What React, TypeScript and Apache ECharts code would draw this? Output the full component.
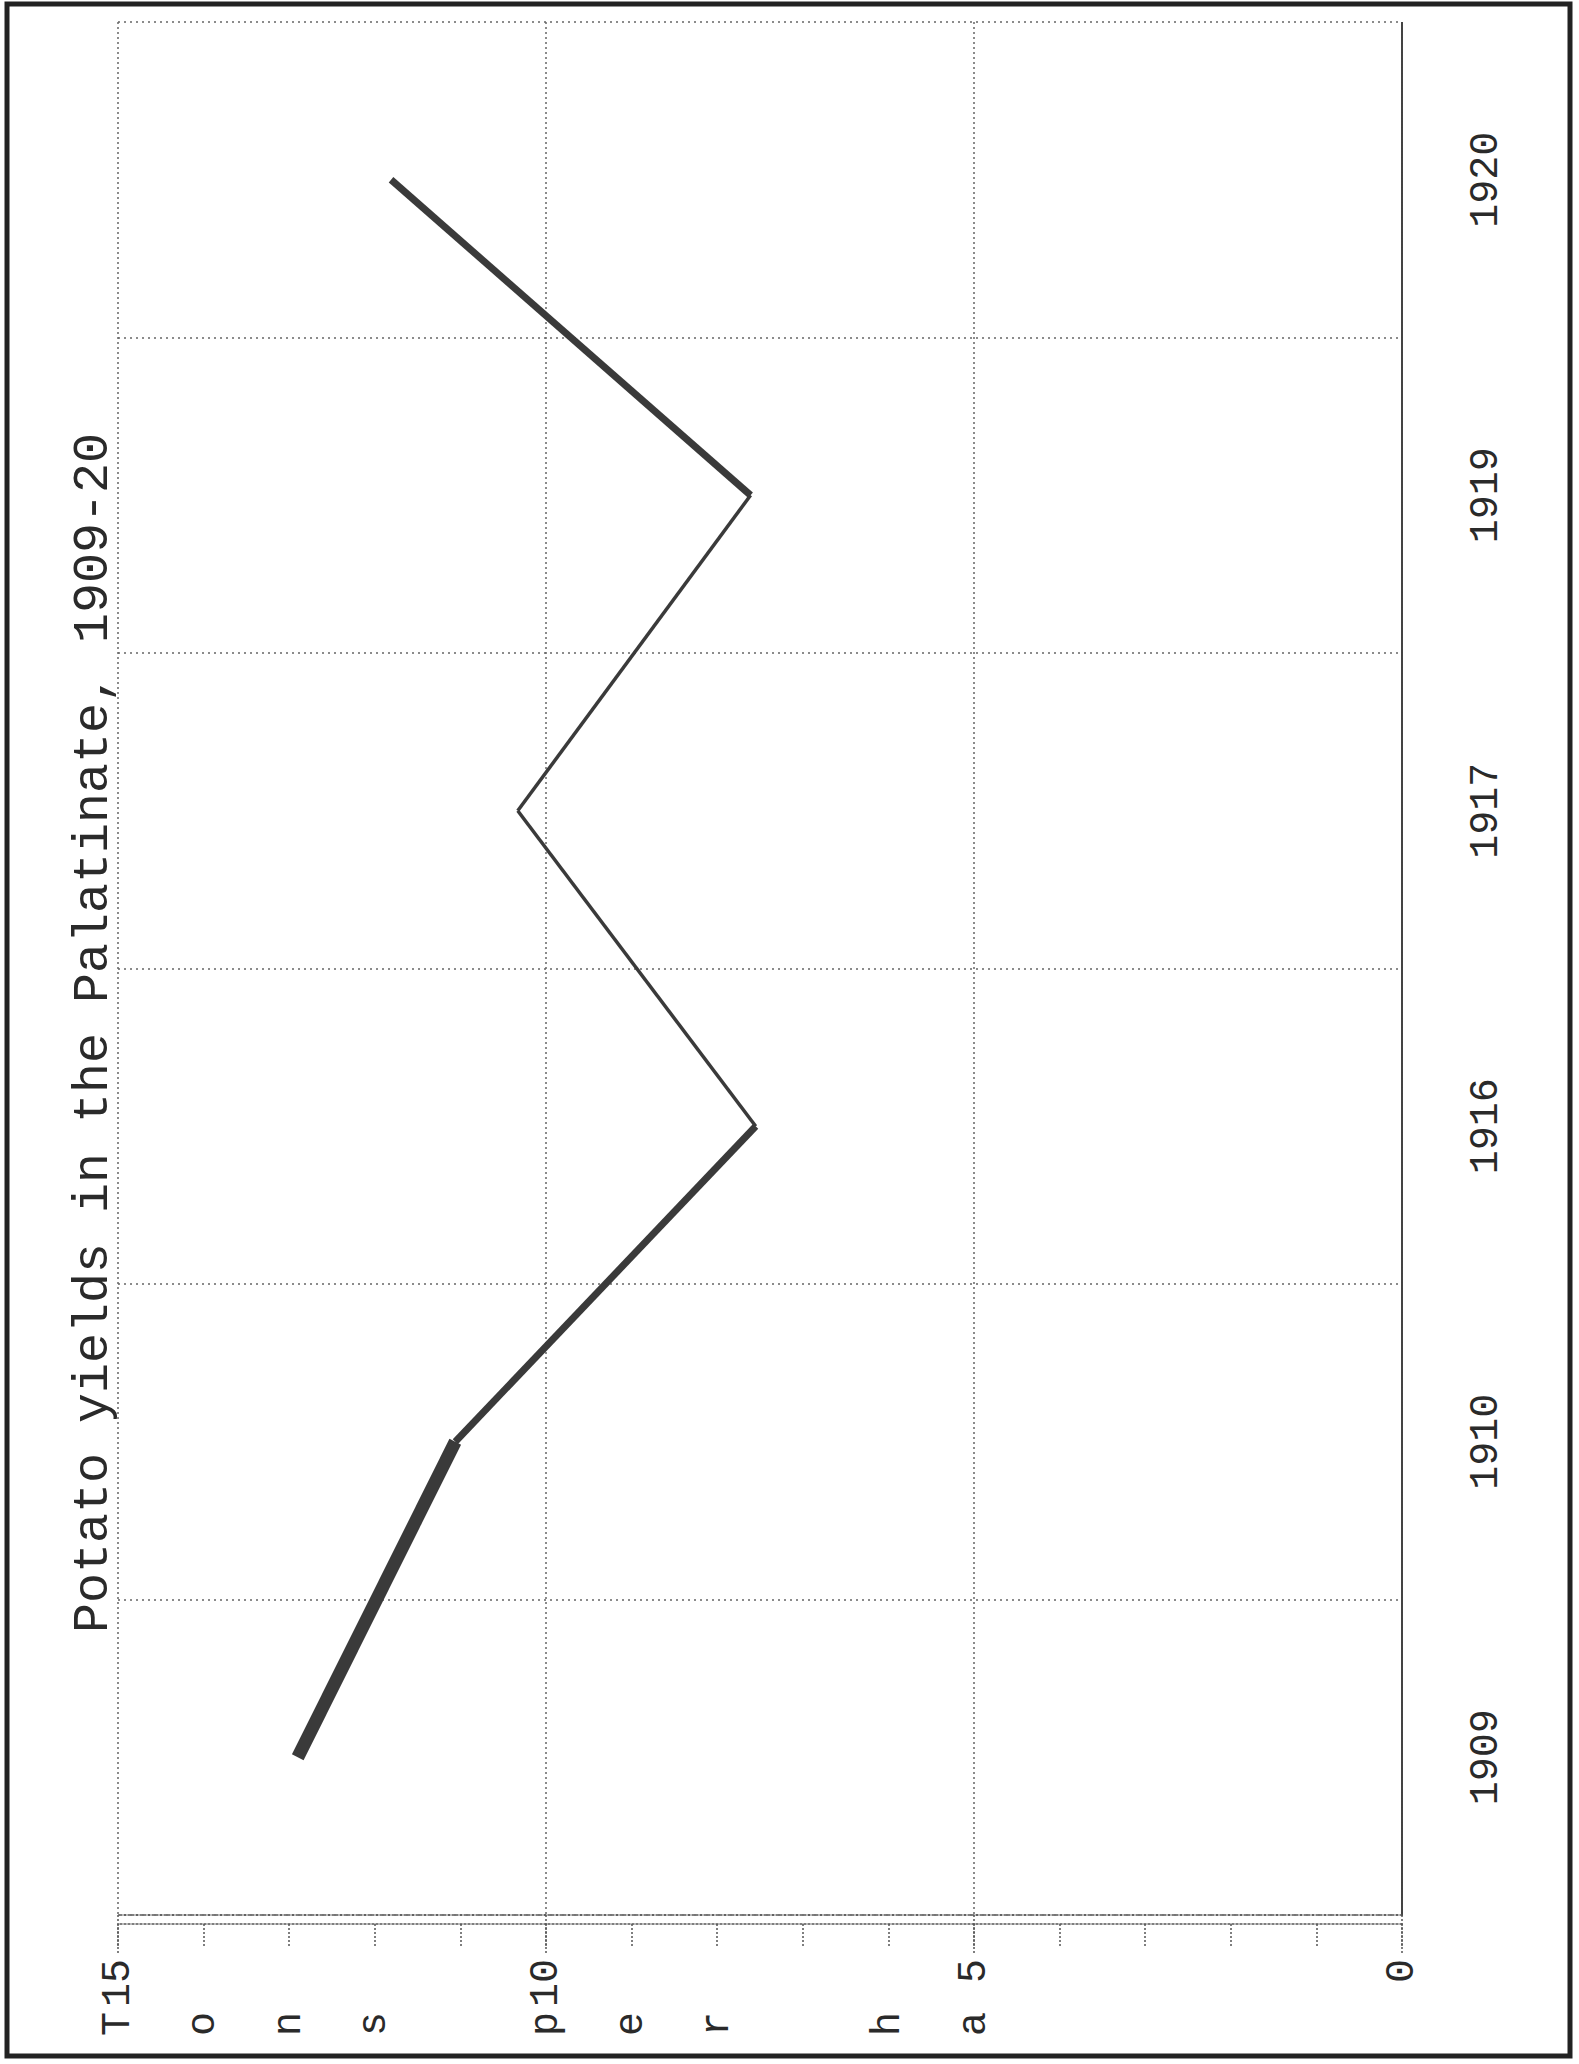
import React, { useEffect, useRef } from "react";
import * as echarts from "echarts";

const years = ["1909", "1910", "1916", "1917", "1919", "1920"];
const yields = [12.9, 11.06, 7.55, 10.33, 7.61, 11.81];
const axisNameLetters = ["T", "o", "n", "s", "", "p", "e", "r", "", "h", "a"];
const segmentWidths = [13, 7, 3.5, 3.5, 7];
const titleText = "Potato yields in the Palatinate, 1909-20";

const FONT = "'Liberation Mono', 'DejaVu Sans Mono', monospace";
const INK = "#2a2a2a";

export default function App() {
  const ref = useRef<HTMLDivElement>(null);

  useEffect(() => {
    document.body.style.margin = "0";
    if (!ref.current) return;
    const chart = echarts.init(ref.current, null, { renderer: "svg" });

    const segments = segmentWidths.map((w, i) => ({
      type: "line",
      xAxisIndex: 0,
      yAxisIndex: 0,
      showSymbol: false,
      silent: true,
      lineStyle: { color: "#3a3a3a", width: w, cap: "butt", join: "round" },
      data: [
        [yields[i], years[i]],
        [yields[i + 1], years[i + 1]],
      ],
    }));

    const dotted = (color: string, dash: number[], width = 1.5) => ({
      color,
      type: dash,
      width,
    });

    chart.setOption({
      animation: false,
      backgroundColor: "#ffffff",
      grid: { left: 118, right: 177, top: 22, bottom: 149, containLabel: false },
      xAxis: [
        {
          type: "value",
          min: 0,
          max: 15,
          interval: 5,
          inverse: true,
          position: "bottom",
          axisLine: { show: true, lineStyle: dotted("#555", [2, 2]) },
          axisTick: { show: true, length: 40, lineStyle: dotted("#555", [2, 2]) },
          splitLine: { show: true, lineStyle: dotted("#666", [2, 3]) },
          axisLabel: {
            rotate: 90,
            margin: 44,
            fontSize: 40,
            fontFamily: FONT,
            color: INK,
          },
        },
        {
          type: "value",
          min: 0,
          max: 15,
          interval: 1,
          inverse: true,
          position: "bottom",
          offset: 9,
          axisLine: { show: true, lineStyle: dotted("#555", [2, 2]) },
          axisTick: { show: true, length: 24, lineStyle: dotted("#555", [2, 2]) },
          splitLine: { show: false },
          axisLabel: {
            rotate: 90,
            margin: 88,
            fontSize: 40,
            fontFamily: FONT,
            color: INK,
            formatter: (v: number) => axisNameLetters[15 - v] ?? "",
          },
        },
      ],
      yAxis: [
        {
          type: "category",
          data: years,
          position: "right",
          boundaryGap: true,
          axisLine: { show: true, lineStyle: dotted("#333", [2, 1], 2) },
          axisTick: { show: false },
          splitLine: { show: true, lineStyle: dotted("#666", [2, 4]) },
          axisLabel: {
            rotate: 90,
            margin: 64,
            fontSize: 40,
            fontFamily: FONT,
            color: INK,
          },
        },
        {
          type: "category",
          data: years,
          position: "left",
          boundaryGap: true,
          axisLine: { show: true, lineStyle: dotted("#444", [2, 1], 2) },
          axisTick: { show: false },
          axisLabel: { show: false },
          splitLine: { show: false },
        },
      ],
      series: segments,
      graphic: [
        {
          type: "text",
          x: 93,
          y: 1033,
          rotation: Math.PI / 2,
          style: {
            text: titleText,
            fontSize: 50,
            fontFamily: FONT,
            fill: INK,
            align: "center",
            verticalAlign: "middle",
          },
        },
        {
          type: "rect",
          shape: { x: 7, y: 4, width: 1563, height: 2052 },
          style: { fill: "none", stroke: "#222", lineWidth: 5 },
        },
      ],
    });

    return () => chart.dispose();
  }, []);

  return <div ref={ref} style={{ width: 1579, height: 2064 }} />;
}
